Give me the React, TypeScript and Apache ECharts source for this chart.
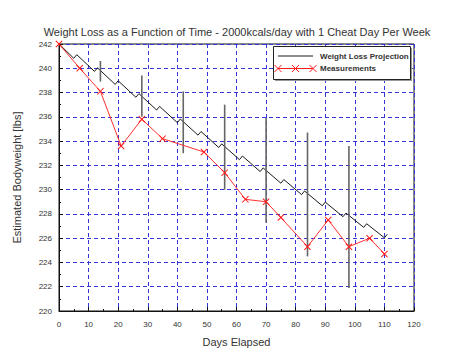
import React, { useEffect, useRef } from "react";
import * as echarts from "echarts";

const titleText = "Weight Loss as a Function of Time - 2000kcals/day with 1 Cheat Day Per Week";
const xAxisName = "Days Elapsed";
const yAxisName = "Estimated Bodyweight [lbs]";
const legendNames = ["Weight Loss Projection", "Measurements"];

// Projection sawtooth vertices (day, lbs)
const projDays = [0, 5, 6, 12, 13, 19, 20, 26, 27, 33, 34, 40, 41, 47, 48, 54, 55, 61, 62, 68, 69, 75, 76, 82, 83, 89, 90, 96, 97, 103, 104, 110, 111];
const projWeights = [242, 240.82, 241.12, 239.74, 240.04, 238.67, 238.97, 237.61, 237.91, 236.56, 236.86, 235.52, 235.82, 234.49, 234.79, 233.47, 233.77, 232.47, 232.77, 231.49, 231.79, 230.53, 230.83, 229.59, 229.89, 228.67, 228.97, 227.77, 228.07, 226.89, 227.19, 226.03, 226.33];

// Measurements
const measDays = [0, 7, 14, 21, 28, 35, 49, 56, 63, 70, 75, 84, 91, 98, 105, 110];
const measWeights = [242, 240.0, 238.1, 233.6, 235.8, 234.2, 233.1, 231.4, 229.2, 229.0, 227.7, 225.3, 227.5, 225.3, 226.0, 224.7];

// Projection uncertainty bars
const barDays = [14, 28, 42, 56, 70, 84, 98];
const barLow = [238.9, 236.0, 233.0, 230.0, 227.3, 224.5, 221.9];
const barHigh = [240.6, 239.4, 238.1, 237.0, 235.9, 234.7, 233.6];

const FONT = "'Liberation Sans', Arial, sans-serif";
const crossSymbol = "path://M0,1L1,0L5,4L9,0L10,1L6,5L10,9L9,10L5,6L1,10L0,9L4,5Z";

export default function App() {
  const ref = useRef<HTMLDivElement>(null);
  useEffect(() => {
    if (!ref.current) return;
    const chart = echarts.init(ref.current, null, { renderer: "svg" });
    const projData = projDays.map((d, i) => [d, projWeights[i]]);
    const measData = measDays.map((d, i) => [d, measWeights[i]]);
    const barData = barDays.map((d, i) => [d, barLow[i], barHigh[i]]);
    const gridLine = { show: true, lineStyle: { color: "#3535d8", type: [4, 3] as any, width: 1 } };
    chart.setOption({
      animation: false,
      backgroundColor: "#ffffff",
      title: {
        text: titleText,
        left: "center",
        top: 21,
        textStyle: { fontFamily: FONT, fontSize: 11, fontWeight: "normal", color: "#333" },
      },
      grid: { left: 59, right: 60, top: 44, bottom: 46, show: true, borderColor: "#111", borderWidth: 1, backgroundColor: "transparent" },
      xAxis: {
        type: "value",
        min: 0,
        max: 120,
        interval: 10,
        name: xAxisName,
        nameLocation: "middle",
        nameGap: 25,
        nameTextStyle: { fontFamily: FONT, fontSize: 11, color: "#333" },
        axisLine: { show: true, lineStyle: { color: "#111" } },
        axisTick: { show: true, inside: true, length: 4, lineStyle: { color: "#111" } },
        minorTick: { show: true, splitNumber: 2, length: 2, lineStyle: { color: "#111" } },
        axisLabel: { fontFamily: FONT, fontSize: 8, color: "#333", margin: 9 },
        splitLine: gridLine,
      },
      yAxis: {
        type: "value",
        min: 220,
        max: 242,
        interval: 2,
        name: yAxisName,
        nameLocation: "middle",
        nameGap: 37,
        nameTextStyle: { fontFamily: FONT, fontSize: 11, color: "#333" },
        axisLine: { show: true, lineStyle: { color: "#111" } },
        axisTick: { show: true, inside: true, length: 4, lineStyle: { color: "#111" } },
        minorTick: { show: true, splitNumber: 2, length: 2, lineStyle: { color: "#111" } },
        axisLabel: { fontFamily: FONT, fontSize: 8, color: "#333", margin: 7 },
        splitLine: gridLine,
      },
      graphic: [
        { type: "rect", shape: { x: 275, y: 48, width: 137, height: 33 }, style: { fill: "#999" }, z: 100 },
        { type: "rect", shape: { x: 273.5, y: 46.5, width: 137, height: 33 }, style: { fill: "#fff", stroke: "#222", lineWidth: 1 }, z: 101 },
        { type: "line", shape: { x1: 278, y1: 56, x2: 313, y2: 56 }, style: { stroke: "#666", lineWidth: 1.5 }, z: 102 },
        { type: "text", x: 320, y: 56, style: { text: legendNames[0], font: `bold 8px ${FONT}`, fill: "#333", verticalAlign: "middle" }, z: 102 },
        { type: "line", shape: { x1: 278, y1: 68.5, x2: 313, y2: 68.5 }, style: { stroke: "#ff1a1a", lineWidth: 1 }, z: 102 },
        ...[278, 295.5, 313].map((cx) => ({
          type: "group",
          z: 103,
          children: [
            { type: "line", shape: { x1: cx - 3.5, y1: 65, x2: cx + 3.5, y2: 72 }, style: { stroke: "#ff1a1a", lineWidth: 1 }, z: 103 },
            { type: "line", shape: { x1: cx - 3.5, y1: 72, x2: cx + 3.5, y2: 65 }, style: { stroke: "#ff1a1a", lineWidth: 1 }, z: 103 },
          ],
        })),
        { type: "text", x: 320, y: 68.5, style: { text: legendNames[1], font: `bold 8px ${FONT}`, fill: "#333", verticalAlign: "middle" }, z: 102 },
      ],
      series: [
        {
          name: legendNames[0],
          type: "line",
          data: projData,
          symbol: "none",
          lineStyle: { color: "#1a1a1a", width: 1 },
          z: 3,
        },
        {
          type: "custom",
          data: barData,
          z: 4,
          renderItem: (params: any, api: any) => {
            const x = api.value(0);
            const p1 = api.coord([x, api.value(1)]);
            const p2 = api.coord([x, api.value(2)]);
            return {
              type: "line",
              shape: { x1: p1[0], y1: p1[1], x2: p2[0], y2: p2[1] },
              style: { stroke: "#666", lineWidth: 1.6 },
            };
          },
        },
        {
          name: legendNames[1],
          type: "line",
          data: measData,
          symbol: crossSymbol,
          symbolSize: 7,
          showSymbol: true,
          itemStyle: { color: "#ff1a1a" },
          lineStyle: { color: "#ff3030", width: 1 },
          z: 5,
        },
      ],
    });
    return () => chart.dispose();
  }, []);
  return <div ref={ref} style={{ width: 474, height: 357, position: "absolute", left: 0, top: 0 }} />;
}
